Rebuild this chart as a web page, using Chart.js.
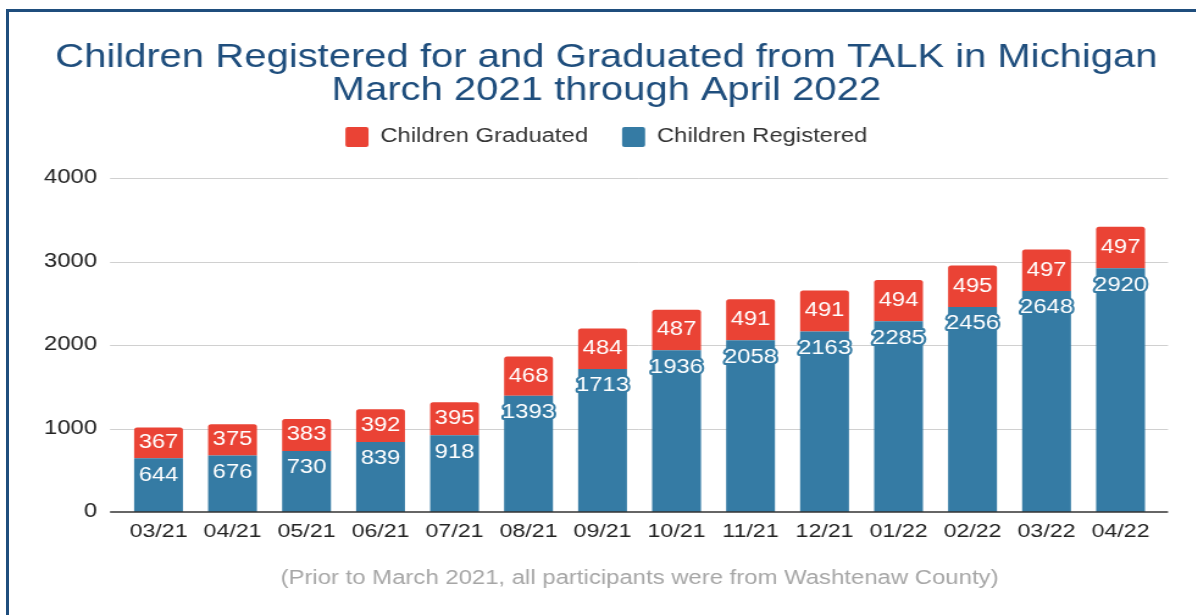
<!DOCTYPE html>
<html>
<head>
<meta charset="utf-8">
<script src="https://cdn.jsdelivr.net/npm/chart.js@4.4.0/dist/chart.umd.min.js"></script>
<style>
  html, body { margin: 0; padding: 0; background: #fff; overflow: hidden; width: 1196px; height: 615px; }
  /* the source image is stretched sideways, so the chart is drawn narrow and scaled in x */
  #wrap { position: absolute; left: 0; top: 0; width: 994px; height: 615px; transform: scaleX(1.22); transform-origin: 0 0; }
  #frame { position: absolute; left: 6px; top: 9px; width: 1400px; height: 800px; border-left: 3px solid #1f4e7d; border-top: 3px solid #1f4e7d; pointer-events: none; }
</style>
</head>
<body>
<div id="wrap"><canvas id="chart" width="994" height="615" style="width:994px;height:615px"></canvas></div>
<div id="frame"></div>
<script>
// datos
const months = ['03/21', '04/21', '05/21', '06/21', '07/21', '08/21', '09/21', '10/21', '11/21', '12/21', '01/22', '02/22', '03/22', '04/22'];
const registered = [644, 676, 730, 839, 918, 1393, 1713, 1936, 2058, 2163, 2285, 2456, 2648, 2920];
const graduated = [367, 375, 383, 392, 395, 468, 484, 487, 491, 491, 494, 495, 497, 497];
const yTicks = [0, 1000, 2000, 3000, 4000];
const titleLines = ['Children Registered for and Graduated from TALK in Michigan', 'March 2021 through April 2022'];
const footNote = '(Prior to March 2021, all participants were from Washtenaw County)';

const FAMILY = '"Liberation Sans", Arial, sans-serif';
const BLUE = '#357ba4';
const RED = '#ea4335';

// rejilla, linea base, etiquetas de valores y nota al pie
const extras = {
    id: 'extras',
    beforeDatasetsDraw(chart) {
        const {ctx, chartArea, scales: {y}} = chart;
        ctx.save();
        ctx.strokeStyle = '#d0d0d0';
        ctx.lineWidth = 1;
        yTicks.forEach(v => {
            if (v === 0) return;
            const py = Math.round(y.getPixelForValue(v)) + 0.5;
            ctx.beginPath();
            ctx.moveTo(chartArea.left - 9.4, py);
            ctx.lineTo(chartArea.right + 8.6, py);
            ctx.stroke();
        });
        ctx.restore();
    },
    afterDatasetsDraw(chart) {
        const {ctx, chartArea, scales: {y}} = chart;
        ctx.save();
        // linea del cero
        const py0 = y.getPixelForValue(0);
        ctx.strokeStyle = '#333';
        ctx.lineWidth = 1.6;
        ctx.beginPath();
        ctx.moveTo(chartArea.left - 9.4, py0);
        ctx.lineTo(chartArea.right + 8.6, py0);
        ctx.stroke();

        ctx.font = '19.5px ' + FAMILY;
        ctx.textAlign = 'center';
        ctx.textBaseline = 'middle';
        ctx.lineJoin = 'round';

        // registrados: arriba del segmento azul, con contorno azul
        chart.getDatasetMeta(0).data.forEach((bar, i) => {
            const txt = String(registered[i]);
            const ty = bar.y + 17;
            ctx.lineWidth = 4;
            ctx.strokeStyle = BLUE;
            ctx.strokeText(txt, bar.x, ty);
            ctx.fillStyle = '#fff';
            ctx.fillText(txt, bar.x, ty);
        });
        // graduados: centrados en el segmento rojo
        chart.getDatasetMeta(1).data.forEach((bar, i) => {
            ctx.fillStyle = '#fff';
            ctx.fillText(String(graduated[i]), bar.x, (bar.y + bar.base) / 2);
        });

        // nota al pie, centrada bajo el area del grafico
        ctx.font = '19.6px ' + FAMILY;
        ctx.fillStyle = '#a6a6a6';
        ctx.fillText(footNote, (chartArea.left + chartArea.right) / 2, 579);
        ctx.restore();
    }
};

const ctx = document.getElementById('chart').getContext('2d');
const chartInstance = new Chart(ctx, {
    type: 'bar',
    data: {
        labels: months,
        datasets: [{
            label: 'Children Registered',
            data: registered,
            backgroundColor: BLUE,
            borderWidth: 0,
            barPercentage: 0.66,
            categoryPercentage: 1
        }, {
            label: 'Children Graduated',
            data: graduated,
            backgroundColor: RED,
            borderWidth: 0,
            borderRadius: {topLeft: 2.5, topRight: 2.5, bottomLeft: 0, bottomRight: 0},
            barPercentage: 0.66,
            categoryPercentage: 1
        }]
    },
    options: {
        responsive: false,
        animation: false,
        layout: { padding: 0 },
        scales: {
            x: {
                stacked: true,
                grid: { display: false, drawTicks: false },
                border: { display: false },
                ticks: { color: '#222', padding: 8, font: { size: 19, family: FAMILY } },
                afterFit(scale) { scale.height = 103; }
            },
            y: {
                stacked: true,
                min: 0,
                max: 4000,
                grid: { display: false, drawTicks: false },
                border: { display: false },
                ticks: {
                    stepSize: 1000,
                    color: '#222',
                    padding: 20.1,
                    font: { size: 19.5, family: FAMILY },
                    callback: v => String(v)
                },
                afterFit(scale) { scale.width = 99.6; }
            },
            // eje vacio a la derecha: solo reserva el margen
            yRight: {
                type: 'linear',
                position: 'right',
                grid: { display: false, drawTicks: false },
                border: { display: false },
                ticks: { display: false },
                afterFit(scale) { scale.width = 45.2; }
            }
        },
        plugins: {
            title: {
                display: true,
                text: titleLines,
                color: '#1f4e7d',
                font: { size: 32.8, family: FAMILY, weight: 'normal', lineHeight: 33 / 32.8 },
                padding: { top: 41.5, bottom: -8.4 }
            },
            legend: {
                reverse: true,
                labels: {
                    color: '#333',
                    boxWidth: 18.9,
                    boxHeight: 20,
                    padding: 27.9,
                    useBorderRadius: true,
                    borderRadius: 2,
                    font: { size: 19.5, family: FAMILY }
                }
            },
            // espacio vacio entre la leyenda y el grafico
            subtitle: {
                display: true,
                text: '',
                weight: 500,
                font: { size: 1, lineHeight: 1 },
                padding: { top: 0, bottom: 20 }
            },
            tooltip: { enabled: false }
        }
    },
    plugins: [extras]
});
</script>
</body>
</html>
